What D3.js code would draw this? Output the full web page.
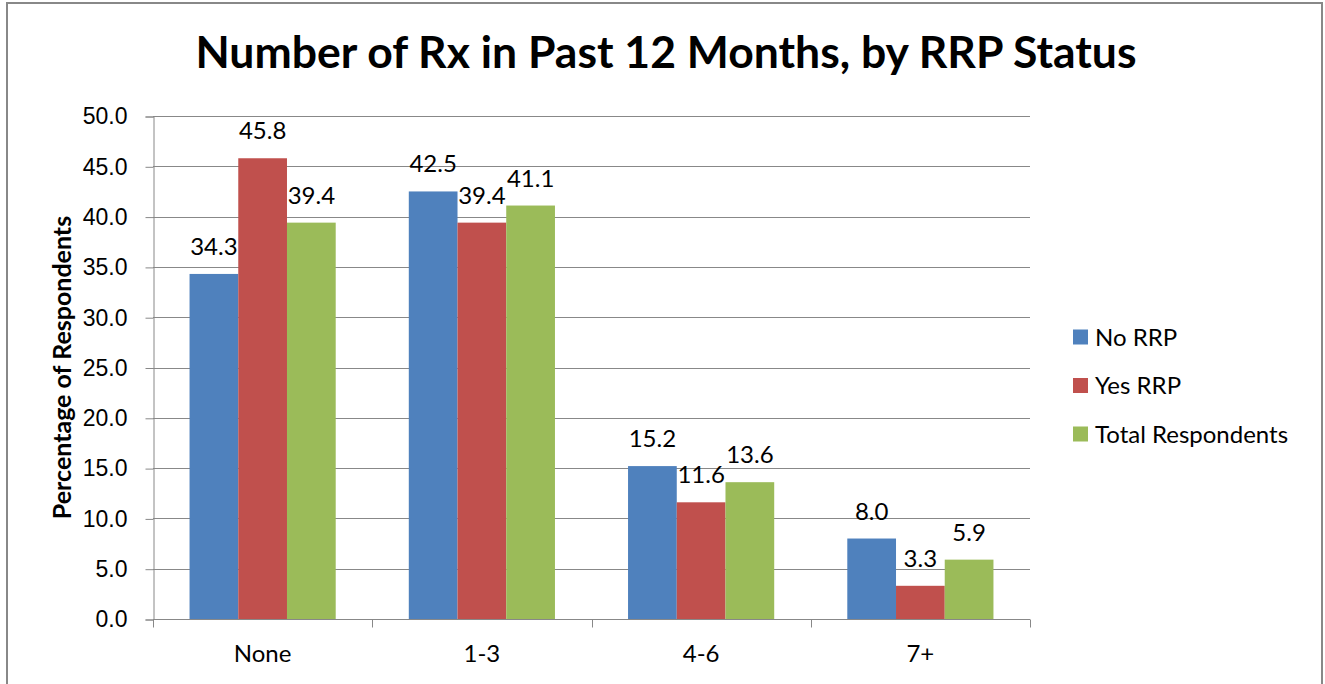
<!DOCTYPE html>
<html>
<head>
<meta charset="utf-8">
<script src="https://cdn.jsdelivr.net/npm/d3@7"></script>
<style>
  body { margin: 0; background: #fff; }
  svg { display: block; font-family: Lato, "Noto Sans", sans-serif; }
</style>
</head>
<body>
<svg id="chart" width="1325" height="684"></svg>
<script>
const categories = ["None", "1-3", "4-6", "7+"];
const seriesNames = ["No RRP", "Yes RRP", "Total Respondents"];
const noRRP = [34.3, 42.5, 15.2, 8.0];
const yesRRP = [45.8, 39.4, 11.6, 3.3];
const totalRespondents = [39.4, 41.1, 13.6, 5.9];
const yTicks = [0, 5, 10, 15, 20, 25, 30, 35, 40, 45, 50];
const colors = ["#4F81BD", "#C0504D", "#9BBB59"];

class groupedBarChart {
  init(element) {
    let $this = this;
    $this.svg = d3.select(element);
    $this.margin = { left: 153, right: 295, top: 116, bottom: 65 };
    $this.width = +$this.svg.attr("width");
    $this.height = +$this.svg.attr("height");
    $this.series = [noRRP, yesRRP, totalRespondents];
    $this.x0 = d3.scaleBand()
      .domain(categories)
      .range([$this.margin.left, $this.width - $this.margin.right]);
    let bw = $this.x0.bandwidth();
    $this.x1 = d3.scaleBand()
      .domain(seriesNames)
      .range([bw / 6, bw - bw / 6]);
    $this.y = d3.scaleLinear()
      .domain([0, 50])
      .range([$this.height - $this.margin.bottom, $this.margin.top]);
  }
  draw() {
    let $this = this;
    let svg = $this.svg;
    let x0 = $this.x0, x1 = $this.x1, y = $this.y;
    let left = $this.margin.left, right = $this.width - $this.margin.right;
    let grey = "#888";
    let fs = 24;

    // outer frame
    svg.append("rect")
      .attr("x", 7).attr("y", 3)
      .attr("width", 1315).attr("height", 700)
      .attr("fill", "none").attr("stroke", grey).attr("stroke-width", 2);

    svg.append("text")
      .attr("x", 666).attr("y", 68)
      .attr("text-anchor", "middle")
      .attr("font-size", 44.5).attr("font-weight", "bold")
      .attr("fill", "#000")
      .text("Number of Rx in Past 12 Months, by RRP Status");

    // gridlines
    svg.append("g")
      .selectAll("line")
      .data(yTicks.filter(d => d > 0))
      .join("line")
      .attr("x1", left).attr("x2", right)
      .attr("y1", d => Math.round(y(d)) + 0.5).attr("y2", d => Math.round(y(d)) + 0.5)
      .attr("stroke", grey).attr("stroke-width", 1);

    // y axis
    let yAxis = svg.append("g")
      .attr("transform", "translate(" + (left + 0.5) + ",0.5)")
      .call(d3.axisLeft(y).tickValues(yTicks).tickFormat(d3.format(".1f")).tickSize(8).tickPadding(18));
    yAxis.select(".domain").attr("stroke", grey);
    yAxis.selectAll(".tick line").attr("stroke", grey);
    yAxis.selectAll("text").attr("font-size", 23).attr("fill", "#000").attr("font-family", null);

    svg.append("text")
      .attr("transform", "translate(71," + y(25) + ") rotate(-90)")
      .attr("text-anchor", "middle")
      .attr("font-size", 25).attr("font-weight", "bold")
      .text("Percentage of Respondents");

    // bars
    let groups = svg.append("g")
      .selectAll("g")
      .data(categories)
      .join("g")
      .attr("transform", d => "translate(" + x0(d) + ",0)");

    let cells = groups.selectAll("g")
      .data((c, i) => seriesNames.map((s, j) => ({ name: s, j: j, value: $this.series[j][i] })))
      .join("g");

    cells.append("rect")
      .attr("x", d => x1(d.name))
      .attr("width", x1.bandwidth())
      .attr("y", d => y(d.value))
      .attr("height", d => y(0) - y(d.value))
      .attr("fill", d => colors[d.j]);

    cells.append("text")
      .attr("x", d => x1(d.name) + x1.bandwidth() / 2)
      .attr("y", d => y(d.value) - 19)
      .attr("text-anchor", "middle")
      .attr("font-size", fs)
      .text(d => d.value.toFixed(1));

    // x axis
    let base = Math.round(y(0)) + 0.5;
    svg.append("line")
      .attr("x1", left).attr("x2", right)
      .attr("y1", base).attr("y2", base)
      .attr("stroke", grey);
    let bounds = categories.map(c => x0(c)).concat([right]);
    svg.append("g")
      .selectAll("line")
      .data(bounds)
      .join("line")
      .attr("x1", d => Math.round(d) + 0.5).attr("x2", d => Math.round(d) + 0.5)
      .attr("y1", base).attr("y2", base + 8)
      .attr("stroke", grey);
    svg.append("g")
      .selectAll("text")
      .data(categories)
      .join("text")
      .attr("x", d => x0(d) + x0.bandwidth() / 2)
      .attr("y", 662)
      .attr("text-anchor", "middle")
      .attr("font-size", fs)
      .text(d => d);

    // legend
    let legend = svg.append("g")
      .selectAll("g")
      .data(seriesNames)
      .join("g")
      .attr("transform", (d, i) => "translate(1073," + (337 + i * 48.5) + ")");
    legend.append("rect")
      .attr("x", 0).attr("y", -7.5)
      .attr("width", 15).attr("height", 15)
      .attr("fill", (d, i) => colors[i]);
    legend.append("text")
      .attr("x", 22).attr("y", 8.5)
      .attr("font-size", fs)
      .text(d => d);
  }
}

let chart = new groupedBarChart();
chart.init(document.getElementById("chart"));
chart.draw();
</script>
</body>
</html>
